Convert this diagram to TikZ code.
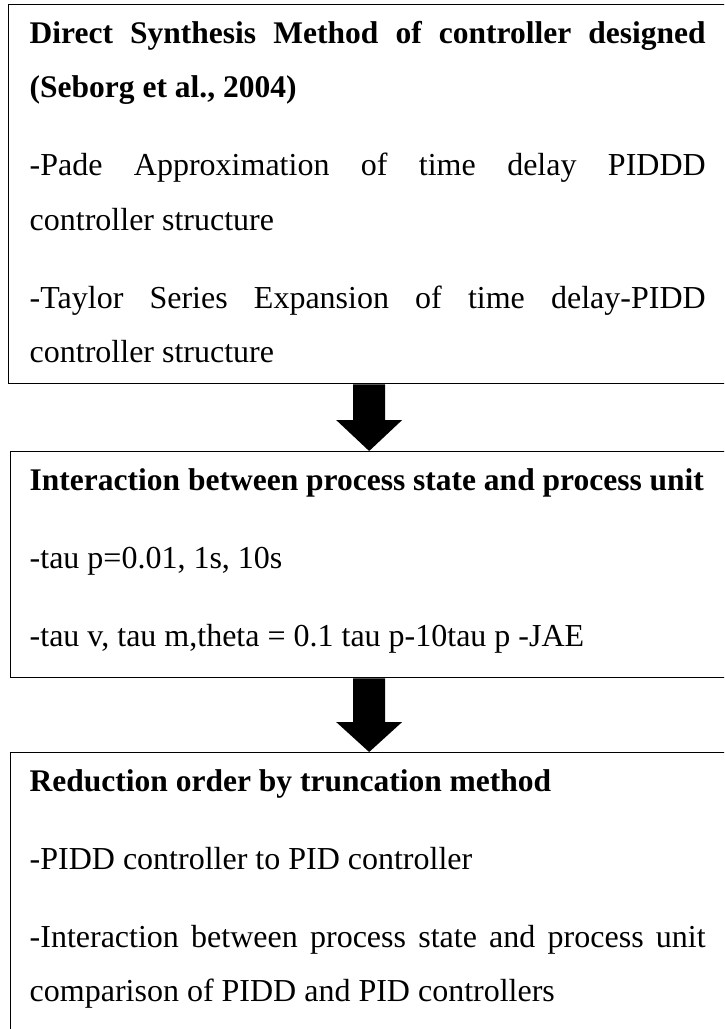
\documentclass[tikz,border=0pt]{standalone}
\usepackage{fontspec}
\setmainfont{Liberation Serif}
\usetikzlibrary{calc}
\newcommand{\txtSetup}{\parindent=0pt\relax\hyphenpenalty=10000\relax\tolerance=10000\relax\emergencystretch=20pt\relax}
\newcommand{\headTxt}[1]{{\fontsize{31.5pt}{54.5pt}\selectfont\bfseries #1}}
\tikzset{
  boxnode/.style={draw=black, line width=1.3pt, inner sep=0pt, anchor=north west, rectangle},
  txt/.style={inner sep=0pt, anchor=north west, text width=676pt, align=justify,
    font=\fontsize{32pt}{54.5pt}\selectfont\txtSetup},
  blockarrow/.style={fill=black}
}
\newcommand{\gapPar}{\par\vspace{23.5pt}}
\newcommand{\firstLn}{\vrule height 39pt depth 0pt width 0pt\relax}
\begin{document}
\begin{tikzpicture}[x=1pt,y=1pt]
\clip (0,0) rectangle (724,-1029);
\fill[white] (0,0) rectangle (724,-1029);
% boxes
\node[boxnode, minimum width=719pt, minimum height=379pt] (b1) at (8,-4) {};
\node[boxnode, minimum width=717pt, minimum height=226pt] (b2) at (10,-451) {};
\node[boxnode, minimum width=717pt, minimum height=300pt] (b3) at (10,-752) {};
% texts
\node[txt] (t1) at (29.5,-4) {\firstLn\headTxt{Direct Synthesis Method of controller designed\linebreak (Seborg et al., 2004)}\gapPar
-Pade Approximation of time delay PIDDD\linebreak controller structure\gapPar
-Taylor Series Expansion of time delay-PIDD\linebreak controller structure};
\node[txt] (t2) at (29.5,-451) {\firstLn\headTxt{Interaction between process state and process unit}\gapPar
-tau p=0.01, 1s, 10s\gapPar
-tau v, tau m,theta = 0.1 tau p-10tau p -JAE};
\node[txt] (t3) at (29.5,-752) {\firstLn\headTxt{Reduction order by truncation method}\gapPar
-PIDD controller to PID controller\gapPar
-Interaction between process state and process unit\linebreak comparison of PIDD and PID controllers};
% block arrows
\fill[blockarrow] let \p1=(b1.south), \p2=(b2.north) in
  (\x2-16,\y1) -- (\x2+16,\y1) -- (\x2+16,\y2+31) -- (\x2+33,\y2+31) -- (\x2,\y2)
  -- (\x2-33,\y2+31) -- (\x2-16,\y2+31) -- cycle;
\fill[blockarrow] let \p1=(b2.south), \p2=(b3.north) in
  (\x2-16,\y1) -- (\x2+16,\y1) -- (\x2+16,\y2+30) -- (\x2+33,\y2+30) -- (\x2,\y2)
  -- (\x2-33,\y2+30) -- (\x2-16,\y2+30) -- cycle;
\end{tikzpicture}
\end{document}
